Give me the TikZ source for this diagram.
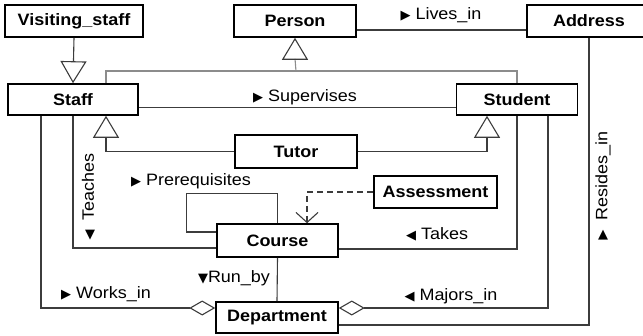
\documentclass[tikz,border=0pt]{standalone}
\usepackage{fontspec}
\setmainfont[FakeStretch=1.09]{Liberation Sans}
\newfontfamily\symfont{DejaVu Sans}
\usetikzlibrary{arrows.meta}
\definecolor{linkgray}{RGB}{60,60,60}
\definecolor{treegray}{RGB}{140,140,140}
\newcommand{\sym}[1]{{\symfont\fontsize{13}{13}\selectfont #1}}

\begin{document}
\begin{tikzpicture}[x=1pt,y=-1pt,
   every node/.style={font=\fontsize{16.5}{18}\selectfont,inner sep=0pt},
   class/.style={draw,line width=1.6pt,fill=white,
      font=\fontsize{16.5}{18}\selectfont\bfseries,minimum height=32pt},
   link/.style={draw=linkgray,line width=1.1pt},
   gen/.style={link,-{Triangle[open,length=22pt,width=26pt]}},
   aggr/.style={link,-{Diamond[open,length=26pt,width=15pt]}},
   dep/.style={link,dash pattern=on 6pt off 4pt,-{Straight Barb[length=10pt,width=22pt]}}]
\useasboundingbox (0,0) rectangle (643,335);

\node[class,minimum width=138pt] (vstaff) at (74,21) {Visiting\_staff};
\node[class,minimum width=122pt] (person) at (295,21) {Person};
\node[class,minimum width=140pt] (address) at (597,21) {\hspace*{-16pt}Address};
\node[class,minimum width=130pt,minimum height=31pt] (staff) at (73,99.5) {Staff};
\node[class,minimum width=121pt,minimum height=31pt] (student) at (517,99.5) {Student};
\node[class,minimum width=122pt,minimum height=33pt] (tutor) at (296,151.5) {Tutor};
\node[class,minimum width=123pt] (assess) at (435.5,192) {Assessment};
\node[class,minimum width=121pt,minimum height=33pt] (course) at (277.5,240.5) {Course};
\node[class,minimum width=122pt,minimum height=31pt] (dept) at (277,317.5) {Department};

\coordinate (gj) at (296,71);
\draw[link,draw=treegray] ([xshift=33pt]staff.north) |- (gj) -| (student.north);
\draw[link,draw=treegray] (gj) -- ([yshift=-21pt]person.south);
\draw[gen] ([yshift=-21pt]person.south) -- (person.south);
\draw[gen] (vstaff.south) -- (staff.north);
\draw[gen] (tutor.west) -| ([xshift=33pt]staff.south);
\draw[gen] (tutor.east) -| ([xshift=-30pt]student.south);

\draw[link] ([yshift=-9pt]person.east) -- ([yshift=-9pt]address.west);
\draw[link] ([yshift=-8pt]staff.east) -- ([yshift=-8pt]student.west);
\draw[link] (staff.south) |- ([yshift=-7.5pt]course.west);
\draw[aggr] ([xshift=-32pt]staff.south) |- ([yshift=9.5pt]dept.west);
\draw[link] (student.south) |- ([yshift=-8.5pt]course.east);
\draw[aggr] ([xshift=31pt]student.south) |- ([yshift=9.5pt]dept.east);
\draw[link] ([xshift=-8pt]address.south) |- ([yshift=-7.5pt]dept.east);
\draw[link] (course.south) -- (dept.north);
\draw[link] (course.north) |- ++(-91,-30) |- ([yshift=8.5pt]course.west);
\draw[dep] (assess.west) -| ([xshift=29.5pt]course.north);

\node (livesin) at (441,15) {\sym{▶} Lives\_in};
\node (supervises) at (305,97) {\sym{▶} Supervises};
\node (prereq) at (191,181) {\sym{▶} Prerequisites};
\node (takes) at (437,234) {\sym{◀} Takes};
\node (majorsin) at (451,296) {\sym{◀} Majors\_in};
\node (worksin) at (106,294) {\sym{▶} Works\_in};
\node (runby) at (234,278) {\sym{▼}Run\_by};
\node[rotate=90] (teaches) at (88,187) {Teaches};
\node (teachesdir) at (90,235) {\sym{▼}};
\node[rotate=90] (residesin) at (603,176) {Resides\_in};
\node (residesdir) at (603,235) {\sym{▲}};
\end{tikzpicture}
\end{document}
